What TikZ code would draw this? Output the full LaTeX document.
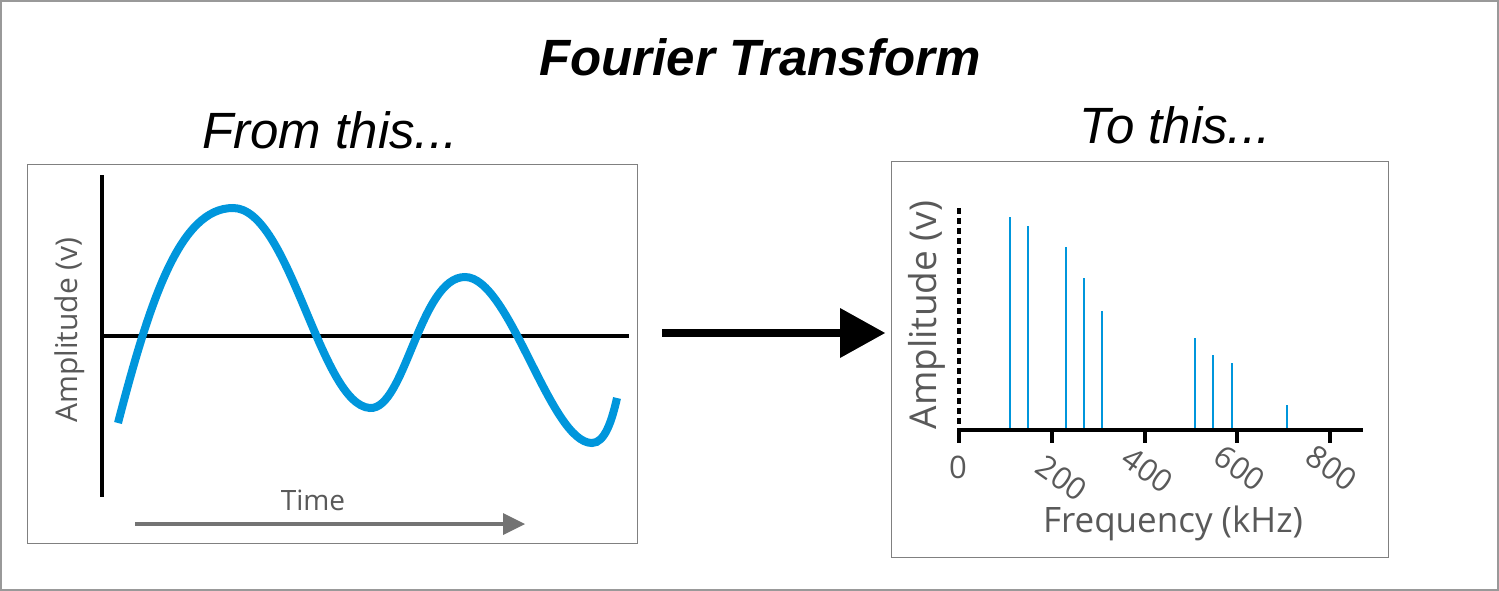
\documentclass[tikz,border=0pt]{standalone}
\usepackage{fontspec}
\setmainfont{Liberation Sans}
\newfontfamily\osans{Open Sans}
\begin{document}
\begin{tikzpicture}[x=1pt,y=-1pt,
  lbl/.style={text=black!65,font=\osans\fontsize{30}{30}\selectfont,inner sep=0},
  bar/.style={draw={rgb,255:red,0;green,150;blue,220},line width=2pt},
  tickl/.style={lbl,font=\osans\fontsize{31}{31}\selectfont,rotate=-35}]
\useasboundingbox (0,0) rectangle (1499,591);
\draw[black!40,line width=1.5pt] (1,1) rectangle (1498,590);
\node (title) at (760,57) {\fontsize{51}{51}\selectfont\bfseries\itshape Fourier Transform};
\node (from) at (330,130) {\fontsize{51}{51}\selectfont\itshape From this...};
\node (to) at (1175,125) {\fontsize{51}{51}\selectfont\itshape To this...};
% left panel
\node[draw=black!50,line width=1pt,minimum width=610,minimum height=379,inner sep=0] (lp) at (332,353.5) {};
\draw[line width=3.5pt] (102,175) -- (102,497);
\draw[line width=3.5pt] (102,336) -- (629,336);
\draw[line width=8pt,color={rgb,255:red,0;green,150;blue,220}] (118,423) .. controls (150,300) and (180,208) .. (233,208)
  .. controls (290,208) and (320,405) .. (370,408)
  .. controls (405,410) and (420,277) .. (465,277)
  .. controls (510,277) and (550,443) .. (592,443)
  .. controls (605,443) and (612,420) .. (617,398);
\node[lbl,rotate=90] (ampl) at (70,330) {Amplitude (v)};
\node[lbl,font=\osans\fontsize{28}{28}\selectfont] (time) at (313,500) {Time};
\coordinate (ts) at (135,524); \coordinate (te) at (525,524);
\draw[black!55,line width=4pt] (ts) -- (505,524);
\fill[black!55] (te) -- (503,513) -- (503,535) -- cycle;
% big arrow
\coordinate (as) at (662,333); \coordinate (ae) at (885,333);
\draw[line width=8pt] (as) -- (845,333);
\fill (ae) -- (840,308) -- (840,358) -- cycle;
% right panel
\node[draw=black!50,line width=1pt,minimum width=497,minimum height=396,inner sep=0] (rp) at (1139.5,359) {};
\draw[line width=3.5pt,dash pattern=on 6pt off 4pt] (959,208) -- (959,430);
\foreach \x/\t in {1010/217,1028/226,1066/247,1084/278,1102/311,1195/338,1213/355,1232/363,1287/405}
  \draw[bar] (\x,430) -- (\x,\t);
\draw[line width=4pt] (957,430) -- (1363,430);
\foreach \x in {959,1052,1145,1237,1330} \draw[line width=4pt] (\x,430) -- (\x,443);
\node[lbl,font=\osans\fontsize{31}{31}\selectfont] (t0) at (958,467) {0};
\node[tickl] (t200) at (1062,478) {200};
\node[tickl] (t400) at (1148,470) {400};
\node[tickl] (t600) at (1240,468) {600};
\node[tickl] (t800) at (1332,468) {800};
\node[lbl,rotate=90,font=\osans\fontsize{37}{37}\selectfont] (ampr) at (927,315) {Amplitude (v)};
\node[lbl,font=\osans\fontsize{35}{35}\selectfont] (freq) at (1173,523) {Frequency (kHz)};
\end{tikzpicture}
\end{document}
